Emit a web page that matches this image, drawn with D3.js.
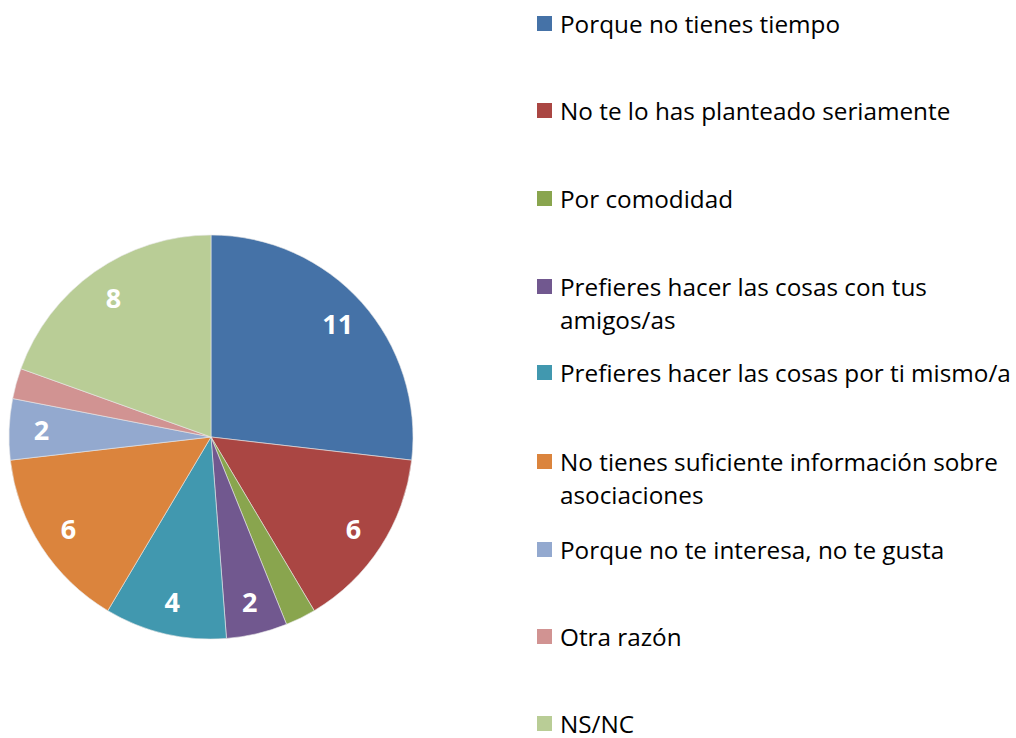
<!DOCTYPE html>
<html>
<head>
<meta charset="utf-8">
<script src="https://cdn.jsdelivr.net/npm/d3@7"></script>
<style>
body{margin:0;background:#fff;}
svg text{font-family:"Open Sans",Lato,sans-serif;}
</style>
</head>
<body>
<svg width="1016" height="738"></svg>
<script>
// data
var labels=["Porque no tienes tiempo","No te lo has planteado seriamente","Por comodidad",
  "Prefieres hacer las cosas con tus|amigos/as","Prefieres hacer las cosas por ti mismo/a",
  "No tienes suficiente información sobre|asociaciones","Porque no te interesa, no te gusta",
  "Otra razón","NS/NC"];
var values=[11,6,1,2,4,6,2,1,8];
var colors=["#4572A7","#AA4643","#89A54E","#71588F","#4198AF","#DB843D","#93A9CF","#D19392","#B9CD96"];
var legendY=[24,111,199,287,373,462,550,637,724];

var svg=d3.select("svg");
var cx=211, cy=437, radius=202;

var pie=d3.pie().sort(null).value(function(d){return d;});
var arcs=pie(values);
var arc=d3.arc().innerRadius(0).outerRadius(radius);
var labelArc=d3.arc().innerRadius(radius*0.84).outerRadius(radius*0.84);

var plot=svg.append("g").attr("transform","translate("+cx+","+cy+")");
plot.selectAll("path")
    .data(arcs)
    .enter()
    .append("path")
    .attr("d",arc)
    .attr("fill",function(d,i){return colors[i];})
    .attr("stroke","#e8e8e8")
    .attr("stroke-width",0.6);

plot.selectAll("text.lbl")
    .data(arcs.filter(function(d){return d.value>1;}))
    .enter()
    .append("text")
    .attr("class","lbl")
    .attr("transform",function(d){return "translate("+labelArc.centroid(d)+")";})
    .attr("text-anchor","middle")
    .attr("dy","0.36em")
    .attr("fill","#fff")
    .attr("font-weight","bold")
    .attr("font-size",27)
    .text(function(d){return d.value;});

var legend=svg.append("g");
var items=legend.selectAll("g")
    .data(labels)
    .enter()
    .append("g")
    .attr("transform",function(d,i){return "translate(537,"+legendY[i]+")";});
items.append("rect")
    .attr("x",0).attr("y",-8)
    .attr("width",15).attr("height",15)
    .attr("fill",function(d,i){return colors[i];});
// one text per line so wrapped labels keep apart
items.selectAll("text")
    .data(function(d){return d.split("|");})
    .enter()
    .append("text")
    .attr("x",23)
    .attr("y",function(d,i){return i*33;})
    .attr("dy","0.35em")
    .attr("font-size",24.3)
    .attr("fill","#000")
    .text(function(d){return d;});
</script>
</body>
</html>
